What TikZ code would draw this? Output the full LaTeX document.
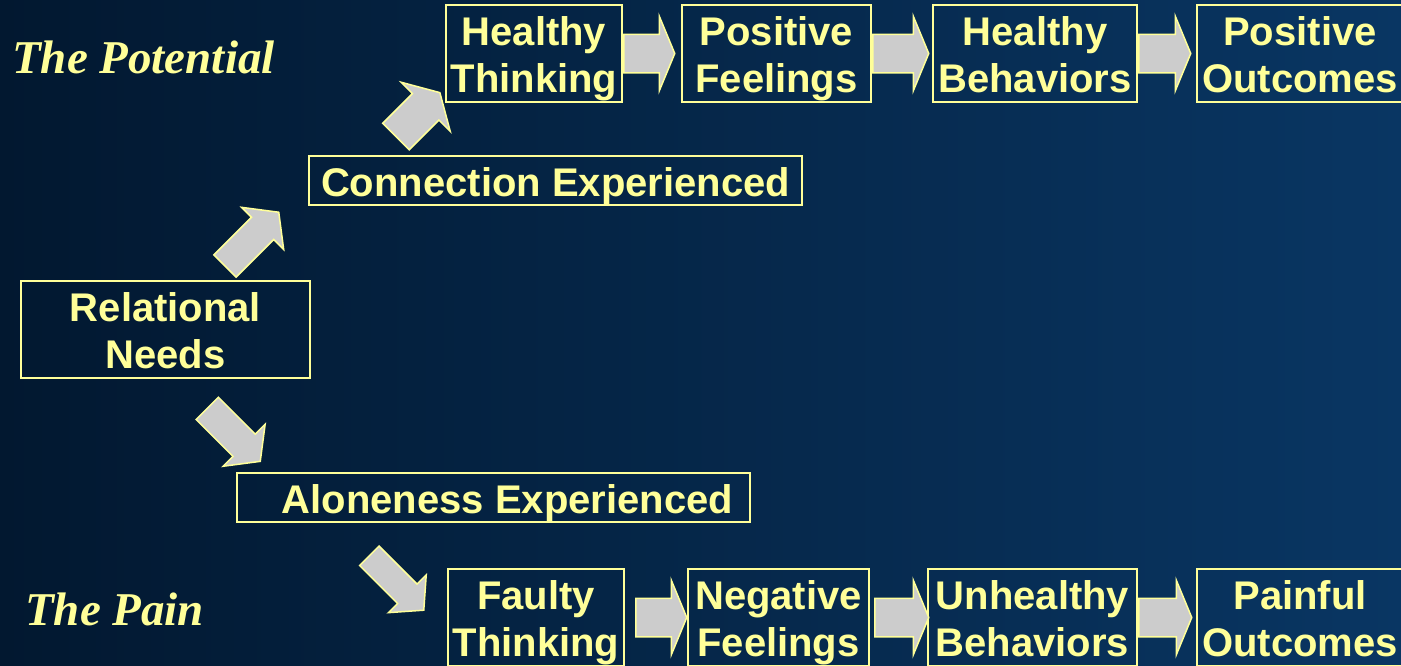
\documentclass[tikz,border=0pt]{standalone}
\usepackage{fontspec}
\setmainfont{Liberation Serif}
\setsansfont{Liberation Sans}
\usetikzlibrary{shapes.arrows,positioning}
\definecolor{pyel}{HTML}{FFFF99}
\definecolor{agray}{HTML}{CCCCCC}
\definecolor{bgleft}{RGB}{2,24,48}
\definecolor{bgright}{RGB}{9,54,99}
% two lines of a box, first baseline 40pt below the top
\newcommand{\twolines}[2]{\rule{0pt}{40pt}#1\\#2\rule[-10pt]{0pt}{0pt}}

\begin{document}
\begin{tikzpicture}[x=1pt,y=-1pt,
    box/.style={draw=pyel,line width=2pt,text=pyel,inner sep=0pt,align=center,minimum height=97pt,
      font=\sffamily\bfseries\fontsize{40}{47}\selectfont},
    wide/.style={box,minimum height=49pt,
      execute at begin node=\rule{0pt}{40pt},execute at end node=\rule[-9pt]{0pt}{0pt}},
    side/.style={text=pyel,anchor=base west,inner sep=0pt,font=\rmfamily\bfseries\itshape\fontsize{47}{56}\selectfont},
    blk/.style={single arrow,draw=pyel,fill=agray,line width=1.5pt,anchor=tail,inner xsep=0pt,minimum width=0pt},
    harrow/.style={blk,minimum height=#1,inner ysep=18.5pt,single arrow head extend=18pt,single arrow tip angle=135},
    darrow/.style={blk,minimum height=76pt,inner ysep=15pt,single arrow head extend=14pt,single arrow tip angle=105}]
    \clip (0,0) rectangle (1401,665);
    \shade[left color=bgleft,right color=bgright] (0,0) rectangle (1401,665);

    \node (pot) at (12,73) [side] {The Potential};
    \node (pain) at (25,625) [side] {The Pain};

    \node (RN) at (165.5,329.5) [box,minimum width=289pt] {\twolines{Relational}{Needs}};
    \node (CE) at (555.5,180.5) [wide,minimum width=493pt] {Connection Experienced};
    \node (AE) at (493.5,497.5) [wide,minimum width=513pt] {\hspace*{28pt}Aloneness Experienced};

    % the potential
    \node (HT) at (534,53.5) [box,minimum width=176pt] {\twolines{Healthy}{Thinking}};
    \node (PF) at (776.5,53.5) [box,minimum width=189pt] {\twolines{Positive}{Feelings}};
    \node (HB) at (1035,53.5) [box,minimum width=204pt] {\twolines{Healthy}{Behaviors}};
    \node (PO) at (1300,53.5) [box,minimum width=206pt] {\twolines{Positive}{Outcomes}};

    % the pain
    \node (FT) at (536,617.5) [box,minimum width=176pt] {\twolines{Faulty}{Thinking}};
    \node (NF) at (778.5,617.5) [box,minimum width=181pt] {\twolines{Negative}{Feelings}};
    \node (UB) at (1032.5,617.5) [box,minimum width=209pt] {\twolines{Unhealthy}{Behaviors}};
    \node (PaO) at (1300,617.5) [box,minimum width=206pt] {\twolines{Painful}{Outcomes}};

    \node (up1) at (224.5,266.5) [darrow,rotate=45] {};
    \node (up2) at (395.5,137) [darrow,rotate=45,minimum height=62pt,inner ysep=18pt,single arrow head extend=16pt,single arrow tip angle=120] {};
    \node (dn1) at (206.7,407.8) [darrow,rotate=-45,minimum height=75pt] {};
    \node (dn2) at (368.8,555.2) [darrow,rotate=-45,minimum height=77pt,inner ysep=13pt,single arrow head extend=13pt,single arrow tip angle=98] {};

    \node (p1) at (HT.east) [harrow=51pt] {};
    \node (p2) at (PF.east) [harrow=56pt] {};
    \node (p3) at (HB.east) [harrow=52pt] {};

    \node (n1) at (FT.east) [harrow=51pt,xshift=10pt] {};
    \node (n2) at (NF.east) [harrow=54pt,xshift=4pt] {};
    \node (n3) at (UB.east) [harrow=53pt] {};
\end{tikzpicture}
\end{document}
